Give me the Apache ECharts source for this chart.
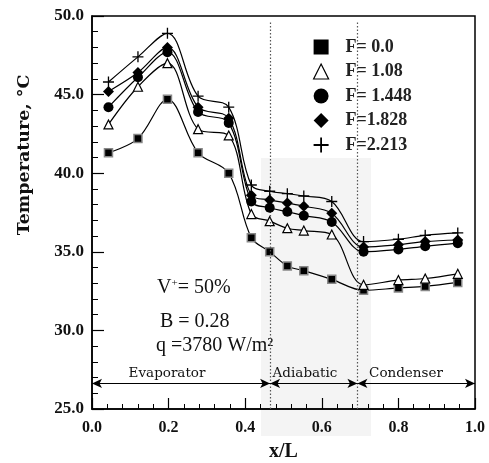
<!DOCTYPE html>
<html><head><meta charset="utf-8">
<script src="https://cdn.jsdelivr.net/npm/echarts@6/dist/echarts.min.js"></script>
<style>html,body{margin:0;padding:0;background:#fff}#c{width:489px;height:463px}</style>
</head><body><div id="c"></div>
<script>
const xPos = [0.043, 0.12, 0.197, 0.277, 0.357, 0.416, 0.464, 0.51, 0.553, 0.626, 0.709, 0.80, 0.87, 0.955];
const F0    = [41.3, 42.2, 44.7, 41.3, 40.0, 35.9, 35.0, 34.1, 33.8, 33.25, 32.55, 32.7, 32.8, 33.05];
const F108  = [43.1, 45.5, 47.0, 42.8, 42.4, 37.4, 36.95, 36.5, 36.35, 36.1, 32.9, 33.2, 33.3, 33.6];
const F1448 = [44.2, 46.1, 47.7, 43.9, 43.2, 38.2, 37.8, 37.55, 37.3, 36.9, 35.0, 35.15, 35.35, 35.55];
const F1828 = [45.2, 46.4, 48.0, 44.2, 43.5, 38.6, 38.3, 38.1, 37.9, 37.45, 35.3, 35.45, 35.65, 35.75];
const F2213 = [45.8, 47.4, 48.9, 44.9, 44.2, 39.25, 38.85, 38.7, 38.55, 38.2, 35.65, 35.8, 36.05, 36.2];
const seriesNames = ['F= 0.0', 'F= 1.08', 'F= 1.448', 'F=1.828', 'F=2.213'];
const regionBounds = [0, 0.465, 0.693, 1.0];
const regionNames = ['Evaporator', 'Adiabatic', 'Condenser'];
const arrowY = 26.63;

const SERIF = "'Liberation Serif', 'DejaVu Serif', serif";
const WIDESERIF = "'DejaVu Serif', 'Liberation Serif', serif";
const plusPath = 'path://M4.4,0h1.2v4.4h4.4v1.2h-4.4v4.4h-1.2v-4.4h-4.4v-1.2h4.4z';
const pair = ys => xPos.map((x, i) => [x, ys[i]]);

const styles = [
  {symbol: 'rect', symbolSize: 8, itemStyle: {color: '#000', borderColor: '#888', borderWidth: 1.5}},
  {symbol: 'triangle', symbolSize: 9, itemStyle: {color: '#fff', borderColor: '#000', borderWidth: 1.2}},
  {symbol: 'circle', symbolSize: 10, itemStyle: {color: '#000'}},
  {symbol: 'diamond', symbolSize: 11, itemStyle: {color: '#000'}},
  {symbol: plusPath, symbolSize: 11, itemStyle: {color: '#000'}}
];
const allData = [F0, F108, F1448, F1828, F2213];

const series = allData.map((d, i) => ({
  name: seriesNames[i],
  type: 'line',
  data: pair(d),
  smooth: 0.35,
  symbol: styles[i].symbol,
  symbolSize: styles[i].symbolSize,
  itemStyle: styles[i].itemStyle,
  lineStyle: {color: '#000', width: 1.2},
  z: 3 + i
}));

series.push({
  type: 'line', data: [], silent: true,
  markLine: {
    silent: true, symbol: 'none', animation: false,
    label: {show: false},
    lineStyle: {color: '#555', type: [1.5, 2], width: 1.2},
    data: [
      [{coord: [regionBounds[1], 25.0]}, {coord: [regionBounds[1], 49.6]}],
      [{coord: [regionBounds[2], 25.0]}, {coord: [regionBounds[2], 49.7]}]
    ]
  }
});
series.push({
  type: 'line', data: [], silent: true,
  markLine: {
    silent: true, animation: false,
    symbol: ['arrow', 'arrow'], symbolSize: [7, 10],
    label: {show: false},
    lineStyle: {color: '#000', type: 'solid', width: 1.2},
    itemStyle: {color: '#000'},
    data: regionNames.map((n, i) => [{coord: [regionBounds[i], arrowY]}, {coord: [regionBounds[i + 1], arrowY]}])
  }
});

const legendIcons = ['rect', 'triangle', 'circle', 'diamond', plusPath];
const legendStyles = [
  {color: '#000', borderWidth: 0},
  {color: '#fff', borderColor: '#000', borderWidth: 1.2},
  {color: '#000', borderWidth: 0},
  {color: '#000', borderWidth: 0},
  {color: '#000', borderWidth: 0}
];

const chart = echarts.init(document.getElementById('c'), null, {renderer: 'canvas'});
chart.setOption({
  animation: false,
  backgroundColor: '#fff',
  grid: {left: 92, right: 14, top: 16, bottom: 54, show: true, borderColor: '#000', borderWidth: 1.5, backgroundColor: 'transparent', containLabel: false, outerBoundsMode: 'none'},
  legend: {
    orient: 'vertical', left: 308, top: 32, itemWidth: 15, itemHeight: 15, itemGap: 4.5,
    selectedMode: false,
    textStyle: {fontFamily: SERIF, fontWeight: 'bold', fontSize: 18, color: '#222', lineHeight: 20, padding: [0, 0, 0, 12]},
    data: seriesNames.map((n, i) => ({name: n, icon: legendIcons[i], itemStyle: legendStyles[i]}))
  },
  xAxis: {
    type: 'value', min: 0, max: 1, interval: 0.2,
    name: 'x/L', nameLocation: 'middle', nameGap: 33,
    nameTextStyle: {fontFamily: SERIF, fontWeight: 'bold', fontSize: 20, color: '#111'},
    axisLine: {lineStyle: {color: '#000', width: 1.5}},
    axisTick: {inside: true, length: 11, lineStyle: {color: '#000', width: 1.2}},
    minorTick: {show: true, splitNumber: 5, length: 5, lineStyle: {color: '#000', width: 1}},
    splitLine: {show: false},
    axisLabel: {fontFamily: SERIF, fontWeight: 'bold', fontSize: 16, color: '#111', margin: 11, formatter: v => v.toFixed(1)}
  },
  yAxis: {
    type: 'value', min: 25, max: 50, interval: 5,
    axisLine: {lineStyle: {color: '#000', width: 1.5}},
    axisTick: {inside: true, length: 12, lineStyle: {color: '#000', width: 1.2}},
    minorTick: {show: true, splitNumber: 5, length: 6, lineStyle: {color: '#000', width: 1}},
    splitLine: {show: false},
    axisLabel: {fontFamily: SERIF, fontWeight: 'bold', fontSize: 17, color: '#111', margin: 8, formatter: v => v.toFixed(1)}
  },
  graphic: [
    {type: 'rect', z: -1, silent: true, shape: {x: 261, y: 158, width: 110, height: 278}, style: {fill: '#f4f4f4'}},
    {type: 'text', x: 24, y: 155, rotation: Math.PI / 2, style: {text: 'Temperature, °C', fontFamily: WIDESERIF, fontWeight: 'bold', fontSize: 17.5, fill: '#111', textAlign: 'center', textVerticalAlign: 'middle'}},
    {type: 'text', x: 157, y: 288, style: {text: 'V{s|+}= 50%', rich: {s: {fontSize: 11, fontFamily: SERIF, fill: '#111', verticalAlign: 'top', padding: [0, 0, 8, 0]}}, fontFamily: SERIF, fontSize: 20, fill: '#111', textVerticalAlign: 'middle'}},
    {type: 'text', x: 160, y: 322, style: {text: 'B = 0.28', fontFamily: SERIF, fontSize: 20, fill: '#111', textVerticalAlign: 'middle'}},
    {type: 'text', x: 156, y: 346, style: {text: 'q =3780 W/m²', fontFamily: SERIF, fontSize: 20, fill: '#111', textVerticalAlign: 'middle'}},
    {type: 'text', x: 167, y: 373, style: {text: 'Evaporator', fontFamily: WIDESERIF, fontSize: 13.5, fill: '#111', textAlign: 'center', textVerticalAlign: 'middle'}},
    {type: 'text', x: 305, y: 373, style: {text: 'Adiabatic', fontFamily: WIDESERIF, fontSize: 13.5, fill: '#111', textAlign: 'center', textVerticalAlign: 'middle'}},
    {type: 'text', x: 406, y: 373, style: {text: 'Condenser', fontFamily: WIDESERIF, fontSize: 13.5, fill: '#111', textAlign: 'center', textVerticalAlign: 'middle'}}
  ],
  series: series
});
</script></body></html>
